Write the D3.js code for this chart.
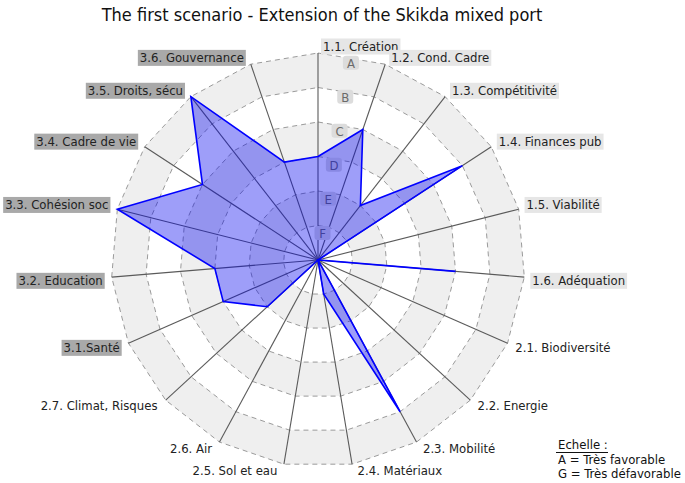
<!DOCTYPE html>
<html>
<head>
<meta charset="utf-8">
<script src="https://cdn.jsdelivr.net/npm/d3@7"></script>
<style>
body{margin:0;background:#fff}
text{font-family:"DejaVu Sans Condensed","DejaVu Sans",sans-serif}
</style>
</head>
<body>
<div id="chart"></div>
<script>
// axes, clockwise from the top
const categories=["1.1. Création","1.2. Cond. Cadre","1.3. Compétitivité","1.4. Finances pub","1.5. Viabilité","1.6. Adéquation",
"2.1. Biodiversité","2.2. Energie","2.3. Mobilité","2.4. Matériaux","2.5. Sol et eau","2.6. Air","2.7. Climat, Risques",
"3.1.Santé","3.2. Education","3.3. Cohésion soc","3.4. Cadre de vie","3.5. Droits, sécu","3.6. Gouvernance"]

// 0 = G ... 6 = A
const values=[3,4,2,5,0,4,0,0,5,1,0,0,2,3,3,6,4,6,3]

const grades=["G","F","E","D","C","B","A"]
const legendLines=["A = Très favorable","G = Très défavorable"]
const title="The first scenario - Extension of the Skikda mixed port"

const width=685
const height=483
const cx=318
const cy=260
const R=207

const svg=d3.select("#chart").append("svg")
.attr("width",width)
.attr("height",height)
.style("background","#fff")

const r=d3.scaleLinear().domain([0,grades.length-1]).range([0,R])
const angle=d3.scaleLinear().domain([0,categories.length]).range([0,2*Math.PI])

const g=svg.append("g").attr("transform","translate("+cx+","+cy+")")

function pt(i,rad){
const a=angle(i)
return [rad*Math.sin(a),-rad*Math.cos(a)]
}

function ring(level){
return categories.map((c,i)=>pt(i,r(level)))
}

const ringLine=d3.line().curve(d3.curveLinearClosed)

// bands, outermost first
const levels=d3.range(grades.length-1,0,-1)
g.append("g").selectAll("path")
.data(levels)
.enter()
.append("path")
.attr("d",d=>ringLine(ring(d)))
.attr("fill",d=>d%2===0?"#efefef":"#fff")

g.append("g").selectAll("path")
.data(levels)
.enter()
.append("path")
.attr("d",d=>ringLine(ring(d)))
.attr("fill","none")
.attr("stroke","#9a9a9a")
.attr("stroke-width",1)
.attr("stroke-dasharray","5,4")

// axes
g.append("g").selectAll("line")
.data(categories)
.enter()
.append("line")
.attr("x1",0)
.attr("y1",0)
.attr("x2",(d,i)=>pt(i,R)[0])
.attr("y2",(d,i)=>pt(i,R)[1])
.attr("stroke","#5a5a5a")
.attr("stroke-width",1.1)

// grade letters between the first two axes
const gl=g.append("g").selectAll("g")
.data(d3.range(1,grades.length))
.enter()
.append("g")
.attr("transform",d=>{
const p=pt(0.5,r(d)-7)
return "translate("+p[0]+","+p[1]+")"
})

gl.append("rect")
.attr("x",-8)
.attr("y",-7)
.attr("width",16)
.attr("height",14)
.attr("rx",3)
.attr("fill","#dcdcdc")

gl.append("text")
.attr("text-anchor","middle")
.attr("y",5)
.attr("font-size","13px")
.attr("fill","#6a6a6a")
.text(d=>grades[d])

// data polygon
const radial=d3.lineRadial()
.angle((d,i)=>angle(i))
.radius(d=>r(d))
.curve(d3.curveLinearClosed)

g.append("path")
.datum(values)
.attr("d",radial)
.attr("fill","rgba(0,0,240,0.38)")
.attr("stroke","#0000ff")
.attr("stroke-width",1.6)
.attr("stroke-linejoin","miter")

// axis labels
const LR=210
categories.forEach((c,i)=>{
const p=pt(i,LR)
const s=Math.sin(angle(i))
const co=-Math.cos(angle(i))
const left=s<-1e-6
const bottom=co>1e-6
const tx=left?p[0]-6:p[0]+5
const ty=bottom?p[1]+8:p[1]+1
const grp=c.charAt(0)
const lg=g.append("g")
const rect=lg.append("rect")
const t=lg.append("text")
.attr("x",tx)
.attr("y",ty)
.attr("text-anchor",left?"end":"start")
.attr("font-size","13px")
.attr("fill","#222")
.text(c)
if(grp!=="2"){
const b=t.node().getBBox()
rect.attr("x",b.x-2)
.attr("y",ty-12.5)
.attr("width",b.width+4)
.attr("height",16)
.attr("fill",grp==="1"?"#e6e6e6":"#a9a9a9")
}
})

// title
svg.append("text")
.attr("x",322)
.attr("y",21)
.attr("text-anchor","middle")
.attr("font-size","18px")
.style("font-family","'Liberation Sans Narrow','DejaVu Sans Condensed',sans-serif")
.attr("fill","#111")
.text(title)

// scale legend
const lx=558
svg.append("text")
.attr("x",lx)
.attr("y",449)
.attr("font-size","13px")
.attr("fill","#111")
.text("Echelle :")
svg.append("line")
.attr("x1",lx-2)
.attr("x2",lx+50)
.attr("y1",452.5)
.attr("y2",452.5)
.attr("stroke","#111")
.attr("stroke-width",1)
svg.append("g").selectAll("text")
.data(legendLines)
.enter()
.append("text")
.attr("x",lx)
.attr("y",(d,i)=>464+i*13.5)
.attr("font-size","13px")
.attr("fill","#111")
.text(d=>d)
</script>
</body>
</html>
